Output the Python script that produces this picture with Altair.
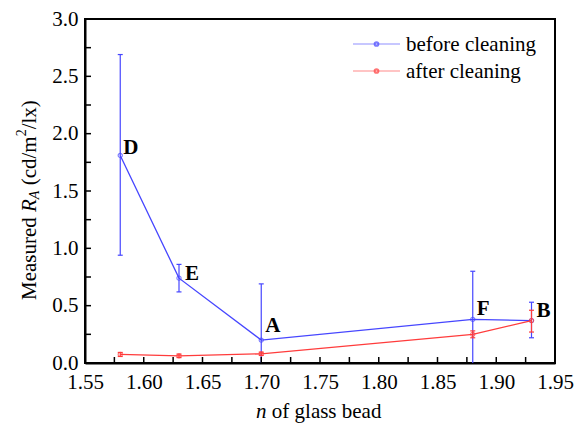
import altair as alt
import pandas as pd

# ---- data ----
n_bead = [1.58, 1.63, 1.70, 1.88, 1.93]
before = [1.81, 0.74, 0.20, 0.38, 0.37]
before_hi = [2.69, 0.86, 0.69, 0.80, 0.53]
before_lo = [0.94, 0.62, -0.29, -0.04, 0.22]
after = [0.075, 0.062, 0.080, 0.25, 0.37]
after_hi = [0.092, 0.078, 0.095, 0.28, 0.46]
after_lo = [0.057, 0.047, 0.066, 0.22, 0.27]
point_labels = ["D", "E", "A", "F", "B"]

x_ticks = [1.55, 1.60, 1.65, 1.70, 1.75, 1.80, 1.85, 1.90, 1.95]
x_minor = [1.55, 1.575, 1.60, 1.625, 1.65, 1.675, 1.70, 1.725, 1.75, 1.775,
           1.80, 1.825, 1.85, 1.875, 1.90, 1.925, 1.95]
y_ticks = [0.0, 0.5, 1.0, 1.5, 2.0, 2.5, 3.0]
y_minor = [0.0, 0.25, 0.5, 0.75, 1.0, 1.25, 1.5, 1.75, 2.0, 2.25, 2.5, 2.75, 3.0]

BLUE = "#4646ff"
RED = "#ff3c3c"
FONT = "Liberation Serif"

W, H = 470, 344

df_b = pd.DataFrame({"n": n_bead, "v": before, "hi": before_hi, "lo": before_lo,
                     "lab": point_labels})
df_a = pd.DataFrame({"n": n_bead, "v": after, "hi": after_hi, "lo": after_lo})

xs = alt.Scale(domain=[1.55, 1.95], nice=False, zero=False)
ys = alt.Scale(domain=[0, 3.0], nice=False, zero=False)

xaxis = alt.Axis(values=x_ticks, format=".2f", title=None, grid=False, ticks=False,
                 labelFont=FONT, labelFontSize=21, labelColor="black", labelPadding=8,
                 domainColor="black", domainWidth=2, labelFlush=False)
yaxis = alt.Axis(values=y_ticks, format=".1f", title=None, grid=False, ticks=False,
                 labelFont=FONT, labelFontSize=21, labelColor="black", labelPadding=7,
                 domainColor="black", domainWidth=2, labelFlush=False)


def series(df, color):
    base = alt.Chart(df)
    line = base.mark_line(color=color, strokeWidth=1.3).encode(
        x=alt.X("n:Q", scale=xs, axis=xaxis), y=alt.Y("v:Q", scale=ys, axis=yaxis))
    bars = base.mark_rule(color=color, strokeWidth=1.2, clip=True).encode(
        x="n:Q", y="lo:Q", y2="hi:Q")
    cap_hi = base.mark_rule(color=color, strokeWidth=1.2, xOffset=-2.5, x2Offset=2.5,
                            clip=True).encode(x="n:Q", x2="n:Q", y="hi:Q")
    cap_lo = base.mark_rule(color=color, strokeWidth=1.2, xOffset=-2.5, x2Offset=2.5,
                            clip=True).encode(x="n:Q", x2="n:Q", y="lo:Q")
    pts = base.mark_point(color=color, filled=False, size=18, strokeWidth=1.1).encode(
        x="n:Q", y="v:Q")
    return [bars, cap_hi, cap_lo, line, pts]


layers = []
layers += series(df_b, BLUE)
layers += series(df_a, RED)

# point letters
label_offsets = {"D": (3, -1), "E": (6, 2), "A": (4, -8), "F": (4, -4), "B": (5, -4)}
for lab, (dx, dy) in label_offsets.items():
    layers.append(
        alt.Chart(df_b).transform_filter(alt.datum.lab == lab)
        .mark_text(font=FONT, fontSize=21, fontWeight="bold", align="left",
                   baseline="alphabetic", dx=dx, dy=dy, color="black")
        .encode(x="n:Q", y="v:Q", text="lab:N"))

# inward ticks
xt = pd.DataFrame({"t": x_minor})
yt = pd.DataFrame({"t": y_minor})
layers.append(alt.Chart(xt).mark_rule(color="black", strokeWidth=1.5).encode(
    x="t:Q", y=alt.value(H), y2=alt.value(H - 6)))
layers.append(alt.Chart(yt).mark_rule(color="black", strokeWidth=1.5).encode(
    y="t:Q", x=alt.value(0), x2=alt.value(6)))

# legend
leg = pd.DataFrame({"name": ["before cleaning", "after cleaning"],
                    "col": [BLUE, RED], "yy": [25, 52]})
for i in range(2):
    row = leg.iloc[[i]]
    c = row["col"].iloc[0]
    yy = int(row["yy"].iloc[0])
    layers.append(alt.Chart(row).mark_rule(color=c, strokeWidth=1.2, opacity=0.6).encode(
        x=alt.value(268), x2=alt.value(315), y=alt.value(yy)))
    layers.append(alt.Chart(row).mark_point(color=c, filled=False, size=14, opacity=0.7).encode(
        x=alt.value(291.5), y=alt.value(yy)))
    layers.append(alt.Chart(row).mark_text(font=FONT, fontSize=21, align="left",
                                           baseline="middle", color="black").encode(
        x=alt.value(321), y=alt.value(yy + 1), text="name:N"))

# y-axis title pieces (rotated)
ypieces = pd.DataFrame({"s": ["Measured", "R", "A", "(cd/m", "2", "/lx)"]})
specs = [
    ("Measured", 281.0, -49.5, 21, "normal"),
    ("R", 193.0, -49.5, 21, "italic"),
    ("A", 180.2, -46.5, 14, "italic"),
    ("(cd/m", 166.3, -49.5, 21, "normal"),
    ("2", 117.3, -59.5, 14, "normal"),
    ("/lx)", 110.3, -49.5, 21, "normal"),
]
for s, yy, xx, fs, st in specs:
    layers.append(alt.Chart(ypieces).transform_filter(alt.datum.s == s)
                  .mark_text(font=FONT, fontSize=fs, fontStyle=st, angle=270, align="left",
                             baseline="alphabetic", color="black")
                  .encode(x=alt.value(xx), y=alt.value(yy), text="s:N"))

# x-axis title pieces
xpieces = pd.DataFrame({"s": ["n", "of glass bead"]})
for s, xx, st in [("n", 171.0, "italic"), ("of glass bead", 186.8, "normal")]:
    layers.append(alt.Chart(xpieces).transform_filter(alt.datum.s == s)
                  .mark_text(font=FONT, fontSize=21, fontStyle=st, align="left",
                             baseline="alphabetic", color="black")
                  .encode(x=alt.value(xx), y=alt.value(399), text="s:N"))

chart = alt.layer(*layers).properties(
    width=W, height=H,
    autosize=alt.AutoSizeParams(type="none"),
    padding={"left": 85, "top": 19, "right": 29, "bottom": 64},
    background="white",
).configure_view(stroke="black", strokeWidth=2)

chart.save("out.html", embed_options={"renderer": "svg", "actions": False})
